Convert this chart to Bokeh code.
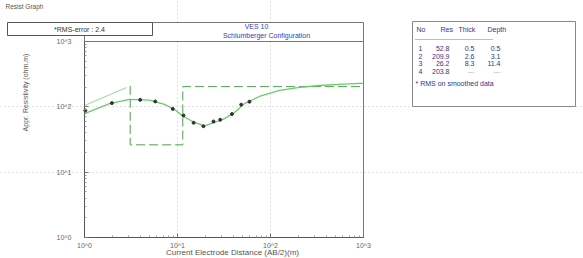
import math
from bokeh.plotting import figure
from bokeh.models import Range1d, FixedTicker
from bokeh.core.properties import value
from bokeh.embed import file_html
from bokeh.resources import INLINE

# ---- data ----
obs_ab2 = [1.02, 1.97, 3.97, 5.76, 8.9, 11.6, 14.9, 19.0, 24.4, 28.8, 38.5, 48.4, 59.4]
obs_rho = [88, 114, 128, 121, 93, 74, 57, 50.6, 59.7, 63.4, 77.6, 108, 120]

model_ab2 = [1.0, 1.86, 3.05, 5.0, 7.25, 9.28, 11.6, 15.2, 19.5, 25.0, 32.0, 41.0,
             52.5, 76, 125, 205, 337, 552, 906, 1000]
model_rho = [79, 112, 130, 127, 109, 91, 71, 57.6, 51, 57.6, 66, 82,
             112, 144, 178, 198, 212, 220, 228, 229]

trend_ab2 = [1.0, 2.83]
trend_rho = [105, 198]

layer_no = ["1", "2", "3", "4"]
layer_res = [52.8, 209.9, 26.2, 203.8]
layer_thick = ["0.5", "2.6", "8.3", "---"]
layer_depth = [0.5, 3.1, 11.4]
rms_error = 2.4
ves_no = 10

x_ticks = [1, 10, 100, 1000]
x_tick_labels = ["10^0", "10^1", "10^2", "10^3"]
y_ticks = [1, 10, 100, 1000]
y_tick_labels = ["10^0", "10^1", "10^2", "10^3"]
x_min, x_max = 1, 1000
y_min, y_max = 1, 1000

# ---- geometry: the frame covers the whole canvas; axes sit at fixed locations ----
W, H = 583, 258
FL, FR, FT, FB = 84, 363, 41, 237   # plot-box edges in px


def dx(px):
    return 10 ** ((px - FL) / ((FR - FL) / 3))


def dy(py):
    return 10 ** ((FB - py) / ((FB - FT) / 3))


p = figure(width=W, height=H, x_axis_type="log", y_axis_type="log",
           x_range=Range1d(dx(0), dx(W)), y_range=Range1d(dy(H), dy(0)),
           output_backend="svg", toolbar_location=None, title=None,
           min_border=0)
p.outline_line_color = None
p.background_fill_color = "white"
p.border_fill_color = "white"

minor = [m * d for d in (1, 10, 100) for m in range(2, 10)]
for ax, ticks, labels in ((p.xaxis, x_ticks, x_tick_labels), (p.yaxis, y_ticks, y_tick_labels)):
    ax.fixed_location = 1
    ax.bounds = (1, 1000)
    ax.ticker = FixedTicker(ticks=ticks, minor_ticks=minor)
    ax.major_label_overrides = {t: l for t, l in zip(ticks, labels)}
    ax.axis_line_color = "#555555"
    ax.major_tick_in = 4
    ax.major_tick_out = 0
    ax.minor_tick_in = 2
    ax.minor_tick_out = 0
    ax.major_tick_line_color = "#777777"
    ax.minor_tick_line_color = "#999999"
    ax.major_label_text_font = "Liberation Sans"
    ax.major_label_text_font_size = "7px"
    ax.major_label_text_color = "#666666"
p.yaxis.major_label_standoff = 13
p.xaxis.major_label_standoff = 4

p.xgrid.ticker = FixedTicker(ticks=[10, 100])
p.ygrid.ticker = FixedTicker(ticks=[10, 100])
p.xgrid.bounds = (y_min, y_max)
p.ygrid.bounds = (x_min, x_max)
for g in (p.xgrid, p.ygrid):
    g.grid_line_color = "#c4c4c4"
    g.grid_line_dash = "1 3"


def box(l, t, r, b, line="#777777", dash="solid", fill="white"):
    p.quad(left=[dx(l)], right=[dx(r)], top=[dy(t)], bottom=[dy(b)],
           fill_color=fill, line_color=line, line_width=1, line_dash=dash)


def text(t, px, py, align="left", color="#333333", size="7px", angle=0.0):
    p.text(x=[dx(px)], y=[dy(py)], text=[t], text_align=align,
           text_baseline="middle", text_color=color,
           text_font=value("Liberation Sans"), text_font_size=size, angle=angle)


# plot box outline (frame of the data area)
p.quad(left=[x_min], right=[x_max], bottom=[y_min], top=[y_max],
       fill_color=None, line_color="#777777", line_width=1)

# ---- data marks ----
p.line(trend_ab2, trend_rho, line_color="#a8dca8", line_width=1.2)
step_x = [layer_depth[1], layer_depth[1], layer_depth[2], layer_depth[2], x_max]
step_y = [layer_res[1], layer_res[2], layer_res[2], layer_res[3], layer_res[3]]
p.line(step_x, step_y, line_color="#4e9e4e", line_width=1, line_dash="9 4")
p.line(model_ab2, model_rho, line_color="#6cc86c", line_width=1.3)
p.scatter(obs_ab2, obs_rho, marker="circle", size=3, fill_color="#333333", line_color="#333333")

# ---- texts and boxes around the plot ----
text("Resist Graph", 5, 6, color="#555555", size="6.5px")

box(FL, 22, FR, FT)
text("VES %d" % ves_no, 256, 26, align="center", color="#3b3bb0")
text("Schlumberger Configuration", 266, 34.5, align="center", color="#3b3bb0")
box(7, 22, 152, 35, line="#555555")
text("*RMS-error :  %.1f" % rms_error, 80, 28.5, align="center", color="#333333")

text("Appr. Resistivity (ohm.m)", 25, 92, align="center", color="#555555", angle=math.pi / 2)
text("Current Electrode Distance (AB/2)(m)", 232, 251.5, align="center", color="#555555", size="8px")

tc = "#34348a"
box(412, 21, 575, 106, line="#888888")
text("No", 416, 29, color=tc)
text("Res", 440, 29, color=tc)
text("Thick", 458, 29, color=tc)
text("Depth", 487, 29, color=tc)
p.line([dx(415), dx(492)], [dy(39), dy(39)], line_color="#7777aa", line_width=1, line_dash="1 1")
row_y = [48, 55.5, 63, 70.5]
for i in range(4):
    y = row_y[i]
    text(layer_no[i], 418, y, color=tc)
    text("%.1f" % layer_res[i], 449, y, align="right", color=tc)
    th = layer_thick[i]
    text(th, 474, y, align="right", color=tc if th != "---" else "#aaaacc")
    dep = "%.1f" % layer_depth[i] if i < len(layer_depth) else "---"
    text(dep, 500, y, align="right", color=tc if dep != "---" else "#aaaacc")
text("* RMS on smoothed data", 415, 83, color=tc)

open("out.html", "w").write(file_html(p, INLINE))
